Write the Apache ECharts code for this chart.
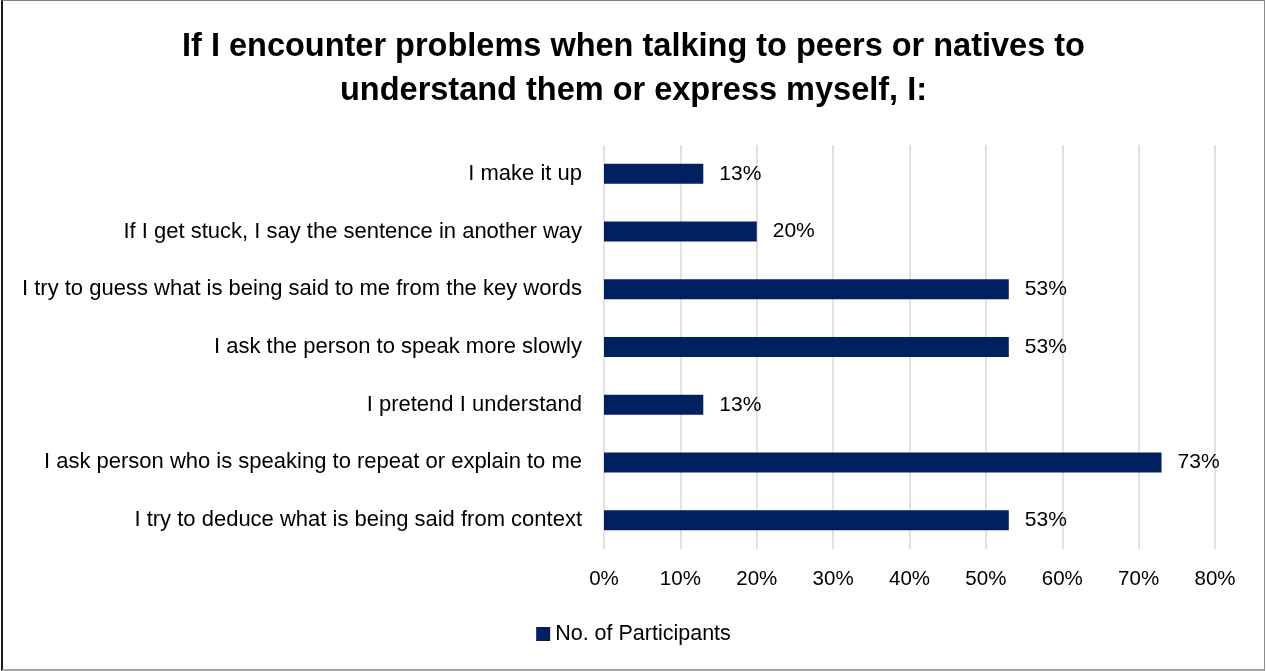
<!DOCTYPE html>
<html>
<head>
<meta charset="utf-8">
<script src="https://cdn.jsdelivr.net/npm/echarts@6/dist/echarts.min.js"></script>
<style>
  html, body { margin: 0; padding: 0; background: #fff; }
  #frame {
    position: absolute; left: 1px; top: 0;
    width: 1261px; height: 668px;
    border-left: 2px solid #1a1a1a;
    border-top: 1px solid #808080;
    border-right: 1px solid #8c8c8c;
    border-bottom: 2px solid #a6a6a6;
  }
  #chart { width: 1261px; height: 668px; }
</style>
</head>
<body>
<div id="frame"><div id="chart"></div></div>
<script>
// Survey responses, listed top to bottom
const categories = [
  "I make it up",
  "If I get stuck, I say the sentence in another way",
  "I try to guess what is being said to me from the key words",
  "I ask the person to speak more slowly",
  "I pretend I understand",
  "I ask person who is speaking to repeat or explain to me",
  "I try to deduce what is being said from context"
];
const participants = [13, 20, 53, 53, 13, 73, 53];
const seriesName = "No. of Participants";
const titleLines = [
  "If I encounter problems when talking to peers or natives to",
  "understand them or express myself, I:"
];

const FONT = "Liberation Sans";
const chart = echarts.init(document.getElementById('chart'), null, { renderer: 'canvas' });
chart.setOption({
  animation: false,
  title: {
    text: titleLines.join('\n'),
    left: 'center',
    top: 19,
    textStyle: { fontFamily: FONT, fontWeight: 'bold', fontSize: 32.5, lineHeight: 44, color: '#000' }
  },
  legend: {
    bottom: 19,
    left: 'center',
    itemWidth: 14,
    itemHeight: 14,
    itemGap: 6,
    icon: 'rect',
    textStyle: { fontFamily: FONT, fontSize: 21.5, color: '#000' },
    data: [seriesName]
  },
  grid: { left: 601, right: 49, top: 144, bottom: 120, containLabel: false },
  xAxis: {
    type: 'value',
    min: 0,
    max: 80,
    interval: 10,
    axisLine: { show: false },
    axisTick: { show: false },
    axisLabel: { formatter: '{value}%', margin: 20, fontFamily: FONT, fontSize: 20.5, color: '#000' },
    splitLine: { lineStyle: { color: '#d9d9d9', width: 1.5 } }
  },
  yAxis: {
    type: 'category',
    data: categories,
    inverse: true,
    axisLine: { show: false },
    axisTick: { show: false },
    axisLabel: { margin: 22, fontFamily: FONT, fontSize: 22, color: '#000' }
  },
  series: [{
    name: seriesName,
    type: 'bar',
    data: participants,
    barWidth: 20,
    itemStyle: { color: '#002060' },
    label: {
      show: true,
      position: 'right',
      distance: 16,
      formatter: '{c}%',
      fontFamily: FONT,
      fontSize: 21,
      color: '#000'
    }
  }]
});
</script>
</body>
</html>
